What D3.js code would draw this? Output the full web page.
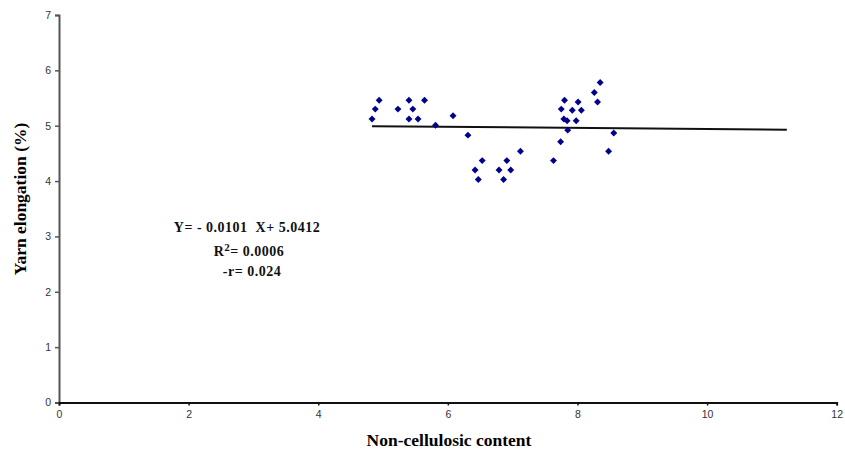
<!DOCTYPE html>
<html>
<head>
<meta charset="utf-8">
<script src="https://cdn.jsdelivr.net/npm/d3@7"></script>
<style>
  body { margin: 0; background: #fff; }
  .tick text { font-family: Arial, "Liberation Sans", sans-serif; font-size: 10.5px; fill: #333; }
  .title { font-family: "Liberation Serif", "Times New Roman", serif; font-weight: bold; font-size: 17.5px; fill: #000; }
  .eq { font-family: "Liberation Serif", "Times New Roman", serif; font-weight: bold; font-size: 14px; fill: #111; white-space: pre; letter-spacing: 0.5px; }
</style>
</head>
<body>
<script>
// Non-cellulosic content (x) vs yarn elongation % (y)
const xValues = [4.83, 4.88, 4.94, 5.23, 5.40, 5.40, 5.46, 5.54, 5.64, 5.81,
                 6.08, 6.31, 7.12, 6.53, 6.42, 6.47, 6.79, 6.86, 6.91, 6.97,
                 8.35, 8.26, 8.31, 7.80, 7.75, 8.01, 7.92, 8.06, 7.79, 7.84,
                 7.98, 7.85, 7.74, 7.63, 8.56, 8.48];
const yValues = [5.12, 5.30, 5.46, 5.30, 5.46, 5.12, 5.30, 5.12, 5.46, 5.01,
                 5.18, 4.83, 4.54, 4.37, 4.20, 4.03, 4.20, 4.03, 4.37, 4.20,
                 5.78, 5.60, 5.43, 5.46, 5.30, 5.43, 5.28, 5.28, 5.12, 5.09,
                 5.09, 4.92, 4.71, 4.37, 4.87, 4.54];

// trend line as printed on the chart
const slope = -0.0101;
const intercept = 5.0412;
const trendRange = [4.83, 11.23];
const eqLines = ["Y= - 0.0101  X+ 5.0412", "R2= 0.0006", "-r= 0.024"];

const xTicks = [0, 2, 4, 6, 8, 10, 12];
const yTicks = [0, 1, 2, 3, 4, 5, 6, 7];

const width = 845, height = 456;
const margin = { top: 15, right: 8, bottom: 53.5, left: 59 };

const svg = d3.select("body").append("svg")
    .attr("width", width)
    .attr("height", height);

const x = d3.scaleLinear().domain([0, 12]).range([margin.left, 836.7]);
const y = d3.scaleLinear().domain([0, 7]).range([height - margin.bottom, margin.top]);

// y axis
svg.append("g")
    .attr("transform", `translate(${margin.left},0)`)
    .call(d3.axisLeft(y).tickValues(yTicks).tickFormat(d3.format("d")).tickSize(4).tickPadding(4))
    .call(g => g.select(".domain").attr("stroke", "#555").attr("stroke-width", 2))
    .call(g => g.selectAll(".tick line").attr("stroke", "#555").attr("stroke-width", 1.5));

// x axis
svg.append("g")
    .attr("transform", `translate(0,${y(0)})`)
    .call(d3.axisBottom(x).tickValues(xTicks).tickFormat(d3.format("d")).tickSize(3).tickPadding(5))
    .call(g => g.select(".domain").attr("stroke", "#111").attr("stroke-width", 1.8))
    .call(g => g.selectAll(".tick line").attr("stroke", "#111").attr("stroke-width", 1.5));

// trend line
svg.append("line")
    .attr("x1", x(trendRange[0]))
    .attr("y1", y(intercept + slope * trendRange[0]))
    .attr("x2", x(trendRange[1]))
    .attr("y2", y(intercept + slope * trendRange[1]))
    .attr("stroke", "#111")
    .attr("stroke-width", 2);

// diamond markers
const diamond = d3.symbol().type(d3.symbolSquare).size(24);
svg.append("g")
    .selectAll("path")
    .data(xValues.map((v, i) => [v, yValues[i]]))
    .join("path")
    .attr("d", diamond)
    .attr("transform", d => `translate(${x(d[0])},${y(d[1])}) rotate(45)`)
    .attr("fill", "#00008b");

// axis titles
svg.append("text")
    .attr("class", "title")
    .attr("x", 449)
    .attr("y", 446)
    .attr("text-anchor", "middle")
    .text("Non-cellulosic content");

svg.append("text")
    .attr("class", "title")
    .attr("transform", "translate(26,199) rotate(-90)")
    .attr("text-anchor", "middle")
    .text("Yarn elongation (%)");

// equation box
const eq = svg.append("g");
eq.append("text").attr("class", "eq").attr("x", 247).attr("y", 232)
    .attr("text-anchor", "middle").text(eqLines[0]);
const r2 = eq.append("text").attr("class", "eq").attr("x", 249).attr("y", 256)
    .attr("text-anchor", "middle");
r2.append("tspan").text("R");
r2.append("tspan").attr("dy", -5).attr("font-size", "11px").text("2");
r2.append("tspan").attr("dy", 5).text("= 0.0006");
eq.append("text").attr("class", "eq").attr("x", 252).attr("y", 276)
    .attr("text-anchor", "middle").text(eqLines[2]);
</script>
</body>
</html>
